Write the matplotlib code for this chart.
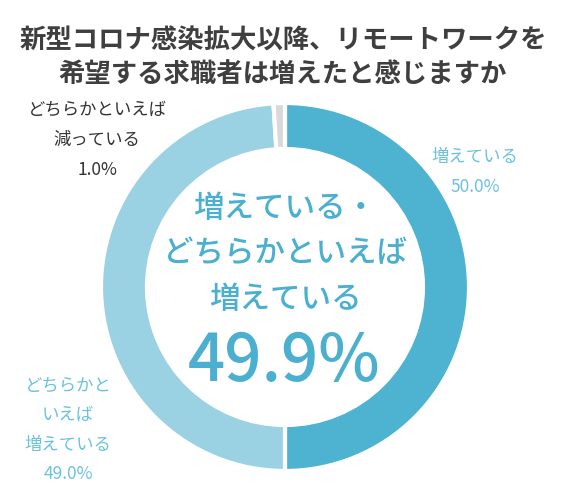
import matplotlib
matplotlib.use("Agg")
import matplotlib.pyplot as plt

plt.rcParams['font.family'] = ['Noto Sans CJK JP', 'DejaVu Sans']

categories = ["増えている", "どちらかといえば増えている", "どちらかといえば減っている"]
values = [50.0, 49.0, 1.0]
colors = ["#4EB2D1", "#9AD2E4", "#D9D9D9"]
title = "新型コロナ感染拡大以降、リモートワークを\n希望する求職者は増えたと感じますか"
center_label = "増えている・\nどちらかといえば\n増えている"
center_value = "49.9%"

W, H = 568, 501
fig = plt.figure(figsize=(W / 100, H / 100), dpi=100)
fig.patch.set_facecolor("white")

cx, cy, R = 285, 287, 184
ax = fig.add_axes([(cx - R) / W, (H - cy - R) / H, 2 * R / W, 2 * R / H])
ax.pie(values, colors=colors, startangle=90, counterclock=False,
       radius=1.0, wedgeprops=dict(width=0.25, edgecolor="white", linewidth=3))
ax.set_xlim(-1, 1)
ax.set_ylim(-1, 1)
ax.set_aspect("equal")
ax.axis("off")

def ft(x, y, s, **kw):
    fig.text(x / W, 1 - y / H, s, ha="center", va="center", **kw)

ft(283, 58, title, fontsize=19, fontweight="bold", color="#3F3F3F", linespacing=1.3)

ft(285, 254, center_label, fontsize=22, fontweight="medium", color="#4BAFCF", linespacing=1.6)
ft(284, 362, center_value, fontsize=47, fontweight="medium", color="#4BAFCF")

# labels
ft(475, 172, "増えている\n50.0%", fontsize=12.5, color="#6BC2DD", linespacing=1.85)
ft(97, 140, "どちらかといえば\n減っている\n1.0%", fontsize=12.5, color="#333333", linespacing=1.85)
ft(68, 430, "どちらかと\nいえば\n増えている\n49.0%", fontsize=12.5, color="#6BC2DD", linespacing=1.8)

fig.savefig("out.png", dpi=100, facecolor="white")
